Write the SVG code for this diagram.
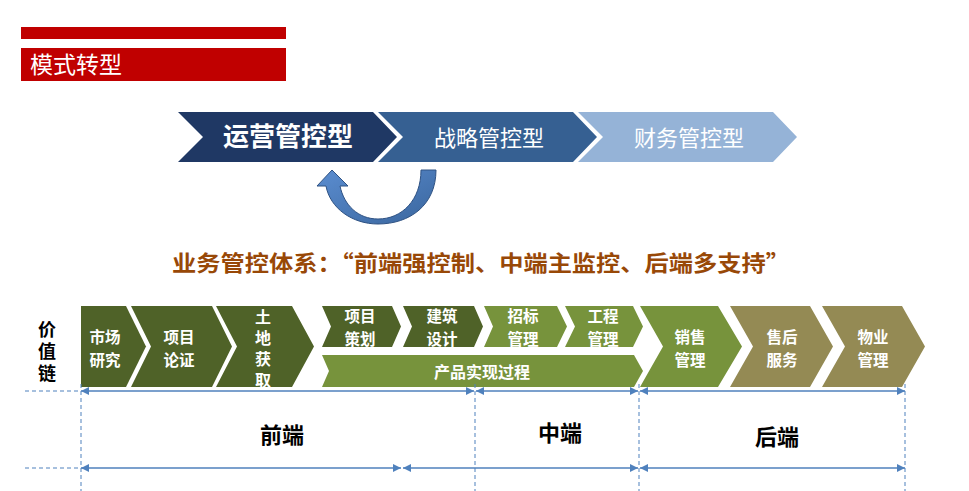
<svg xmlns="http://www.w3.org/2000/svg" width="969" height="491" viewBox="0 0 969 491">
<style>
text{font-family:"Noto Sans CJK SC","Noto Sans",sans-serif;}
.w{fill:#fff;font-weight:bold;font-size:15.5px;text-anchor:middle;}
.v{writing-mode:vertical-rl;text-orientation:upright;}
.dk{fill:#4F6228;}
.lg{fill:#77933C;}
.kh{fill:#948A54;}
.dim{stroke:#4F81BD;stroke-width:1.3;fill:none;marker-start:url(#ah);marker-end:url(#ah);}
.dash{stroke:#4F81BD;stroke-width:1;stroke-dasharray:4 3;fill:none;}
.lbl{fill:#000;font-weight:bold;font-size:22px;text-anchor:middle;}
</style>
<defs>
<marker id="ah" viewBox="0 0 10 10" refX="10" refY="5" markerWidth="8" markerHeight="8" markerUnits="userSpaceOnUse" orient="auto-start-reverse">
<path d="M0 0 L10 5 L0 10 Z" fill="#4F81BD"/>
</marker>
<linearGradient id="ug" x1="0" y1="0" x2="1" y2="1">
<stop offset="0" stop-color="#5B8DD0"/>
<stop offset="1" stop-color="#3A669E"/>
</linearGradient>
</defs>

<g id="banner">
<rect x="21" y="27" width="265" height="12" fill="#C00000"/>
<rect x="21" y="48" width="265" height="33" fill="#C00000"/>
<text x="30" y="73" fill="#fff" font-size="23">模式转型</text>
</g>

<g id="mode-ops">
<path d="M178 112 L373 112 L397 137 L373 162 L178 162 L203 137 Z" fill="#1F3864"/>
<text x="288" y="146" fill="#fff" font-size="26" font-weight="bold" text-anchor="middle">运营管控型</text>
</g>
<g id="mode-strategy">
<path d="M378 112 L573 112 L597 137 L573 162 L378 162 L403 137 Z" fill="#366092"/>
<text x="489" y="146" fill="#fff" font-size="22" text-anchor="middle">战略管控型</text>
</g>
<g id="mode-finance">
<path d="M578 112 L773 112 L797 137 L773 162 L578 162 L603 137 Z" fill="#95B3D7"/>
<text x="689" y="146" fill="#fff" font-size="22" text-anchor="middle">财务管控型</text>
</g>

<g id="uturn-arrow">
<path d="M421 170 L436 170 C436 205 410 224 378 224 C352 224 330 208 326 186 L317 186 L332 170 L348 186 L340 186 C344 205 358 219 378 219 C402 219 421 200 421 170 Z" fill="url(#ug)" stroke="#2F5283" stroke-width="1"/>
</g>

<g id="heading">
<text x="172" y="271" fill="#984807" font-size="22" font-weight="bold" textLength="618" lengthAdjust="spacingAndGlyphs">业务管控体系：“前端强控制、中端主监控、后端多支持”</text>
</g>

<g id="value-chain-label">
<text class="v" x="47" y="320" font-size="18" font-weight="bold" letter-spacing="4">价值链</text>
</g>

<g id="market-research">
<path class="dk" d="M81 306 L126 306 L146 346.5 L126 387 L81 387 Z"/>
<text class="w" x="105" y="343">市场<tspan x="105" dy="22.5">研究</tspan></text>
</g>
<g id="project-demo">
<path class="dk" d="M131 306 L212 306 L232 346.5 L212 387 L131 387 L151 346.5 Z"/>
<text class="w" x="179" y="343">项目<tspan x="179" dy="22.5">论证</tspan></text>
</g>
<g id="land">
<path class="dk" d="M216 306 L292 306 L314 346.5 L292 387 L216 387 L237 346.5 Z"/>
<text class="w v" x="263" y="309" style="text-anchor:start;font-size:16px" letter-spacing="5">土地获取</text>
</g>
<g id="planning">
<path class="dk" d="M322 306 L392 306 L401 326.5 L392 347 L322 347 L331 326.5 Z"/>
<text class="w" x="360" y="322">项目<tspan x="360" dy="22.5">策划</tspan></text>
</g>
<g id="design">
<path class="dk" d="M403 306 L474 306 L483 326.5 L474 347 L403 347 L412 326.5 Z"/>
<text class="w" x="442" y="322">建筑<tspan x="442" dy="22.5">设计</tspan></text>
</g>
<g id="bidding">
<path class="lg" d="M484 306 L557 306 L567 326.5 L557 347 L484 347 L493 326.5 Z"/>
<text class="w" x="523" y="322">招标<tspan x="523" dy="22.5">管理</tspan></text>
</g>
<g id="engineering">
<path class="lg" d="M565 306 L633 306 L643 326.5 L633 347 L565 347 L575 326.5 Z"/>
<text class="w" x="603" y="322">工程<tspan x="603" dy="22.5">管理</tspan></text>
</g>
<g id="product-process">
<path class="lg" d="M322 355 L634 355 L643 371 L634 387 L322 387 L329 371 Z"/>
<text class="w" x="482" y="378" style="font-size:16px">产品实现过程</text>
</g>
<g id="sales">
<path class="lg" d="M640 306 L718 306 L742 346.5 L718 387 L640 387 L663 346.5 Z"/>
<text class="w" x="690" y="343">销售<tspan x="690" dy="22.5">管理</tspan></text>
</g>
<g id="after-sales">
<path class="kh" d="M730 306 L810 306 L833 346.5 L810 387 L730 387 L753 346.5 Z"/>
<text class="w" x="782" y="343">售后<tspan x="782" dy="22.5">服务</tspan></text>
</g>
<g id="property">
<path class="kh" d="M822 306 L902 306 L925 346.5 L902 387 L822 387 L845 346.5 Z"/>
<text class="w" x="873" y="343">物业<tspan x="873" dy="22.5">管理</tspan></text>
</g>

<g id="connectors">
<line class="dash" x1="25" y1="391" x2="81" y2="391"/>
<line class="dash" x1="25" y1="468" x2="81" y2="468"/>
<line class="dash" x1="81" y1="384" x2="81" y2="491"/>
<line class="dash" x1="475" y1="384" x2="475" y2="491"/>
<line class="dash" x1="639" y1="384" x2="639" y2="491"/>
<line class="dash" x1="905" y1="384" x2="905" y2="491"/>
<line class="dim" x1="81" y1="391" x2="474" y2="391"/>
<line class="dim" x1="476" y1="391" x2="638" y2="391"/>
<line class="dim" x1="640" y1="391" x2="905" y2="391"/>
<line class="dim" x1="81" y1="468" x2="401" y2="468"/>
<line class="dim" x1="403" y1="468" x2="638" y2="468"/>
<line class="dim" x1="640" y1="468" x2="905" y2="468"/>
</g>

<g id="stage-front"><text class="lbl" x="282" y="443">前端</text></g>
<g id="stage-middle"><text class="lbl" x="560" y="441">中端</text></g>
<g id="stage-back"><text class="lbl" x="777" y="445">后端</text></g>
</svg>
